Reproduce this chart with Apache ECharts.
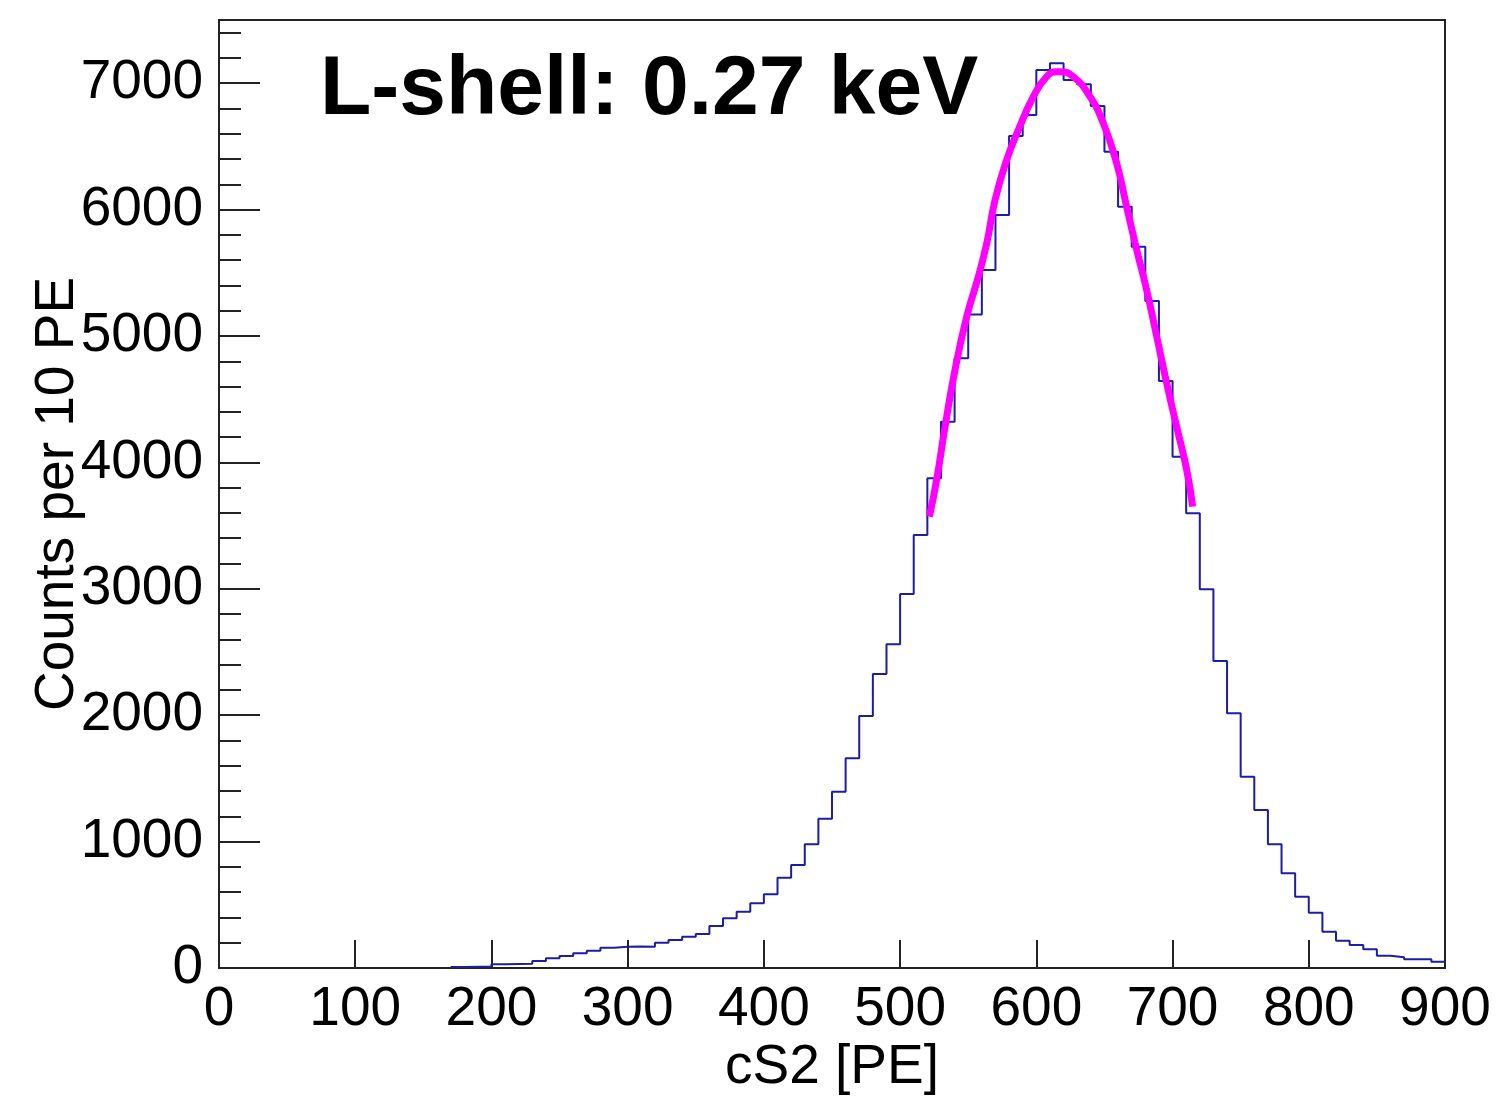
<!DOCTYPE html>
<html>
<head>
<meta charset="utf-8">
<script src="https://cdn.jsdelivr.net/npm/echarts@6/dist/echarts.min.js"></script>
<style>html,body{margin:0;padding:0;background:#fff;}#c{width:1501px;height:1099px;}</style>
</head>
<body>
<div id="c"></div>
<script>
// Histogram: counts per 10 PE bin, bins starting at 170 PE
const binStart = 170;
const binWidth = 10;
const counts = [
  8, 10, 12,
  30, 32, 34, 55, 77, 95, 116, 137, 161, 168,
  170, 168, 200, 222, 248, 269, 332, 393, 445, 512,
  583, 714, 815, 979, 1181, 1395, 1659, 1994, 2326, 2561,
  2959, 3426, 3874, 4322, 4823, 5171, 5522, 5957, 6582, 6748,
  7104, 7157, 7025, 6991, 6820, 6458, 6023, 5707, 5277, 4644,
  4045, 3597, 2996, 2429, 2015, 1514, 1250, 979, 749, 564,
  438, 287, 216, 182, 148, 97, 85, 69, 69, 50
];
// Fit curve points (PE, counts)
const fitX = [521.5, 526.8, 533.0, 540.3, 548.9, 557.4, 563.6, 569.7, 578.2, 586.8, 597.8, 607.6, 615.0, 617.4, 627.1, 639.4, 649.2, 659.0, 666.3, 673.7, 681.0, 688.4, 695.7, 703.0, 710.4, 714.8];
const fitY = [3571, 3861, 4283, 4731, 5153, 5469, 5733, 6076, 6392, 6630, 6893, 7052, 7091, 7091, 7052, 6893, 6683, 6366, 6023, 5680, 5364, 4995, 4626, 4283, 3940, 3650];
// Axis ticks
const xTicks = [0, 100, 200, 300, 400, 500, 600, 700, 800, 900];
const yMajorTicks = [0, 1000, 2000, 3000, 4000, 5000, 6000, 7000];
const yMinorTicks = [200, 400, 600, 800, 1200, 1400, 1600, 1800, 2200, 2400, 2600, 2800, 3200, 3400, 3600, 3800, 4200, 4400, 4600, 4800, 5200, 5400, 5600, 5800, 6200, 6400, 6600, 6800, 7200, 7400];
const titleText = 'L-shell: 0.27 keV';
const xName = 'cS2 [PE]';
const yName = 'Counts per 10 PE';

const histData = counts.map((v, i) => [binStart + i * binWidth, v]);
histData.push([binStart + counts.length * binWidth, counts[counts.length - 1]]);
const fitData = fitX.map((x, i) => [x, fitY[i]]);

const FONT = 'Liberation Sans';
const chart = echarts.init(document.getElementById('c'), null, {renderer: 'canvas'});
chart.setOption({
  animation: false,
  backgroundColor: '#fff',
  title: {
    text: titleText,
    left: 320,
    top: 49,
    padding: 0,
    textStyle: {fontFamily: FONT, fontWeight: 'bold', fontSize: 84, color: '#000'}
  },
  grid: {
    left: 219, top: 20, right: 56, bottom: 131,
    containLabel: false, outerBoundsMode: 'none',
    show: true, borderColor: '#222', borderWidth: 2, backgroundColor: 'transparent'
  },
  xAxis: {
    type: 'value', min: 0, max: 900, interval: 100,
    name: xName, nameLocation: 'middle', nameGap: 72, nameMoveOverlap: false,
    nameTextStyle: {fontFamily: FONT, fontSize: 55, color: '#000'},
    axisLine: {show: true, onZero: false, lineStyle: {color: '#222', width: 2}},
    axisTick: {show: true, inside: true, length: 28, customValues: xTicks, lineStyle: {color: '#222', width: 2}},
    axisLabel: {fontFamily: FONT, fontSize: 55, color: '#000', margin: 14, customValues: xTicks,
      formatter: v => String(v)},
    splitLine: {show: false}
  },
  yAxis: [{
    type: 'value', min: 0, max: 7500,
    name: yName, nameLocation: 'middle', nameGap: 134, nameRotate: 90, nameMoveOverlap: false,
    nameTextStyle: {fontFamily: FONT, fontSize: 55, color: '#000'},
    axisLine: {show: true, onZero: false, lineStyle: {color: '#222', width: 2}},
    axisTick: {show: true, inside: true, length: 41, customValues: yMajorTicks, lineStyle: {color: '#222', width: 2}},
    axisLabel: {fontFamily: FONT, fontSize: 55, color: '#000', margin: 16, customValues: yMajorTicks,
      formatter: v => String(v)},
    splitLine: {show: false}
  }, {
    type: 'value', min: 0, max: 7500, position: 'left',
    axisLine: {show: false},
    axisTick: {show: true, inside: true, length: 22, customValues: yMinorTicks, lineStyle: {color: '#222', width: 2}},
    axisLabel: {show: false},
    splitLine: {show: false}
  }],
  series: [{
    type: 'line', step: 'end', data: histData, showSymbol: false, symbol: 'none',
    lineStyle: {color: '#1c1ca6', width: 2}, z: 2
  }, {
    type: 'line', smooth: true, data: fitData, showSymbol: false, symbol: 'none',
    lineStyle: {color: '#ff00ff', width: 7}, z: 3
  }]
});
</script>
</body>
</html>
